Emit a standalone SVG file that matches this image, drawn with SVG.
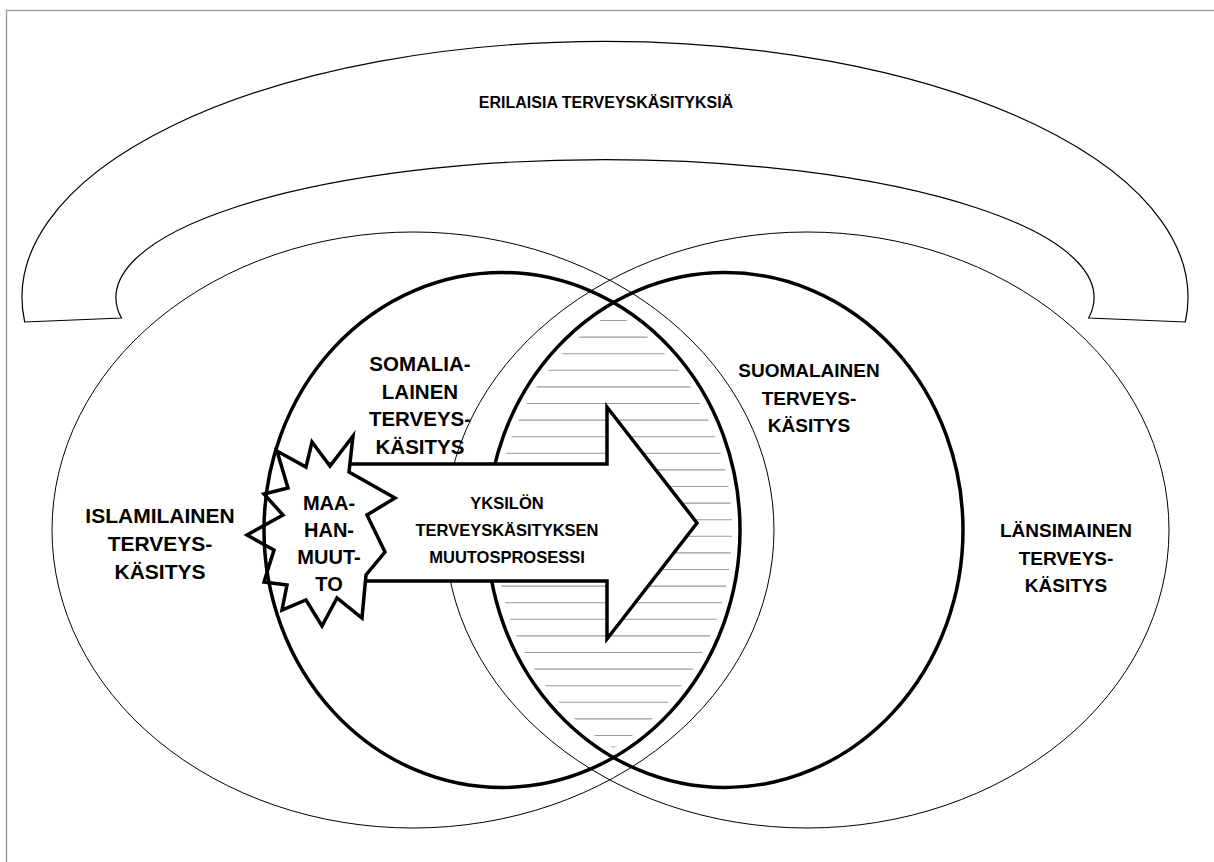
<svg xmlns="http://www.w3.org/2000/svg" width="1214" height="862" viewBox="0 0 1214 862">
<style>
.thin{fill:none;stroke:#000;stroke-width:1}
.thick{fill:none;stroke:#000;stroke-width:3.5}
.lbl{font-family:"Liberation Sans",Arial,sans-serif;font-weight:bold;fill:#000;text-anchor:middle}
.hatch{stroke:#9a9a9a;stroke-width:1.1;fill:none}
</style>
<defs>
<clipPath id="lensA"><ellipse cx="502" cy="530" rx="230" ry="249.5"/></clipPath>
<clipPath id="lensB"><ellipse cx="725" cy="530" rx="230" ry="249.5"/></clipPath>
</defs>
<rect x="6.5" y="10.5" width="1220" height="900" fill="#fff" stroke="#9a9a9a" stroke-width="1.4"/>
<g id="arch">
<path d="M24.7,322 A583,256 0 1 1 1185.3,322 L1088.6,318 A489,138 0 1 0 121.4,318 Z" fill="#fff" stroke="#000" stroke-width="1.2"/>
</g>
<g id="islamic"><ellipse class="thin" cx="413" cy="530" rx="361" ry="298"/></g>
<g id="western"><ellipse class="thin" cx="807" cy="530" rx="362" ry="298"/></g>
<g id="overlap">
<g clip-path="url(#lensA)"><g clip-path="url(#lensB)">
<path class="hatch" d="M470,320.5H760M470,337.1H760M470,353.7H760M470,370.3H760M470,386.9H760M470,403.5H760M470,420.1H760M470,436.7H760M470,453.3H760M470,469.9H760M470,486.5H760M470,503.1H760M470,519.7H760M470,536.3H760M470,552.9H760M470,569.5H760M470,586.1H760M470,602.7H760M470,619.3H760M470,635.9H760M470,652.5H760M470,669.1H760M470,685.7H760M470,702.3H760M470,718.9H760M470,735.5H760M470,747H760"/>
</g></g>
</g>
<g id="finnish"><ellipse class="thick" cx="725" cy="530" rx="238" ry="257.5"/></g>
<g id="connectors">
<path id="arrow" d="M330,464 H607 V407 L697,523 L607,639 V581 H330 Z" fill="#fff" stroke="#000" stroke-width="3.5" stroke-linejoin="miter"/>
</g>
<g id="migration">
<polygon points="353,436 349,472 395,498 367,515 385,552 366,575 362,618 337,598 322,626 306,600 282,610 287,585 264,582 274,550 247,535 283,515 264,494 288,488 277,451 306,467 312,442 330,466" fill="#fff" stroke="#000" stroke-width="3.5" stroke-linejoin="miter"/>
</g>
<g id="somali"><ellipse class="thick" cx="502" cy="530" rx="238" ry="257.5"/></g>
<g id="labels">
<text class="lbl" x="606" y="108" font-size="16">ERILAISIA TERVEYSKÄSITYKSIÄ</text>
<text class="lbl" font-size="21"><tspan x="160" y="523">ISLAMILAINEN</tspan><tspan x="160" y="551">TERVEYS-</tspan><tspan x="160" y="579">KÄSITYS</tspan></text>
<text class="lbl" font-size="20.5"><tspan x="420" y="371">SOMALIA-</tspan><tspan x="420" y="398.5">LAINEN</tspan><tspan x="420" y="426">TERVEYS-</tspan><tspan x="420" y="453.5">KÄSITYS</tspan></text>
<text class="lbl" font-size="19"><tspan x="809" y="377">SUOMALAINEN</tspan><tspan x="809" y="404.5">TERVEYS-</tspan><tspan x="809" y="432">KÄSITYS</tspan></text>
<text class="lbl" font-size="19"><tspan x="1066" y="537">LÄNSIMAINEN</tspan><tspan x="1066" y="565">TERVEYS-</tspan><tspan x="1066" y="592">KÄSITYS</tspan></text>
<text class="lbl" font-size="20"><tspan x="329" y="510">MAA-</tspan><tspan x="329" y="537">HAN-</tspan><tspan x="329" y="564">MUUT-</tspan><tspan x="329" y="591">TO</tspan></text>
<text class="lbl" font-size="16.5"><tspan x="507" y="509">YKSILÖN</tspan><tspan x="507" y="536">TERVEYSKÄSITYKSEN</tspan><tspan x="507" y="563">MUUTOSPROSESSI</tspan></text>
</g>
</svg>
